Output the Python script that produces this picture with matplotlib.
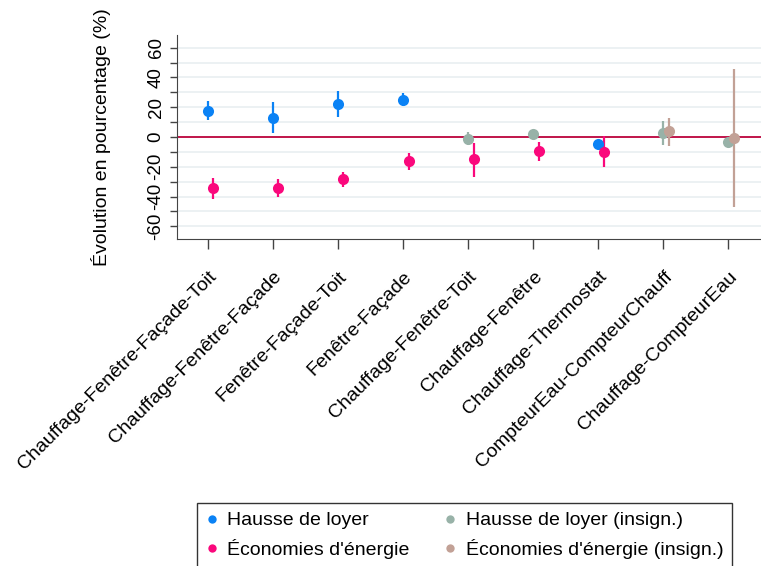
import numpy as np
import matplotlib.pyplot as plt

plt.rcParams['font.family'] = ['Liberation Sans', 'DejaVu Sans']

combos = ['Chauffage-Fenêtre-Façade-Toit', 'Chauffage-Fenêtre-Façade',
          'Fenêtre-Façade-Toit', 'Fenêtre-Façade', 'Chauffage-Fenêtre-Toit',
          'Chauffage-Fenêtre', 'Chauffage-Thermostat',
          'CompteurEau-CompteurChauff', 'Chauffage-CompteurEau']

# loyer: estimate, ci low, ci high, significatif
loyer = [17.7, 13.0, 22.4, 24.8, -1.1, 1.8, -4.5, 2.9, -3.1]
loyer_lo = [11.4, 2.5, 13.6, 20.6, -5.4, -1.5, -5.5, -5.6, -4.8]
loyer_hi = [24.2, 23.5, 31.0, 29.3, 3.1, 4.7, -3.5, 10.9, -1.4]
loyer_sig = [True, True, True, True, False, False, True, False, False]

# energie
energie = [-34.4, -34.0, -28.4, -16.1, -15.0, -9.6, -9.8, 3.8, -0.5]
energie_lo = [-41.6, -40.0, -33.8, -22.1, -26.6, -15.9, -19.9, -5.8, -47.2]
energie_hi = [-27.3, -28.0, -23.7, -11.0, -4.2, -3.6, 0.7, 13.0, 46.0]
energie_sig = [True, True, True, True, True, True, True, False, False]

c_loyer = '#0a82f5'
c_energie = '#fa087c'
c_loyer_ns = '#98b2a8'
c_energie_ns = '#c2a196'

fig = plt.figure(figsize=(7.61, 5.66), dpi=100)
ax = fig.add_axes([177/761, 1 - 239/566, 1 - 177/761, 204/566])

x = np.arange(1, len(combos) + 1)
dx = 0.08

def draw(xs, est, lo, hi, sig, col, col_ns):
    for xi, e, l, h, s in zip(xs, est, lo, hi, sig):
        c = col if s else col_ns
        ax.plot([xi, xi], [l, h], color=c, lw=1.6, zorder=3, solid_capstyle='butt')
        ax.plot(xi, e, 'o', color=c, ms=8, mec='none', zorder=4)

draw(x, loyer, loyer_lo, loyer_hi, loyer_sig, c_loyer, c_loyer_ns)
draw(x + dx, energie, energie_lo, energie_hi, energie_sig, c_energie, c_energie_ns)

ax.axhline(0, color='#c0144a', lw=1.4, zorder=2)

ax.set_xlim(0.52, 9.5)
ax.set_ylim(-68.5, 68.5)
yt = np.arange(-60, 70, 10)
ax.set_yticks(yt)
ax.set_yticklabels([str(v) if v % 20 == 0 else '' for v in yt],
                   rotation=90, va='center', fontsize=13.5)
for v in yt:
    ax.axhline(v, color='#eaf0f2', lw=1.3, zorder=1)
ax.set_xticks(x)
ax.set_xticklabels(combos, rotation=45, ha='right', rotation_mode='anchor', fontsize=14)
ax.tick_params(axis='x', length=7, width=1, color='#444444', pad=14)
ax.tick_params(axis='y', length=5, width=1, color='#444444', pad=4)
for s in ['top', 'right']:
    ax.spines[s].set_visible(False)
for s in ['left', 'bottom']:
    ax.spines[s].set_color('#444444')
ax.set_ylabel('Évolution en pourcentage (%)', fontsize=14, labelpad=26)

handles = [
    plt.Line2D([], [], marker='o', ls='none', color=c_loyer, mec='none', ms=6, label='Hausse de loyer'),
    plt.Line2D([], [], marker='o', ls='none', color=c_energie, mec='none', ms=6, label="Économies d'énergie"),
    plt.Line2D([], [], marker='o', ls='none', color=c_loyer_ns, mec='none', ms=6, label='Hausse de loyer (insign.)'),
    plt.Line2D([], [], marker='o', ls='none', color=c_energie_ns, mec='none', ms=6, label="Économies d'énergie (insign.)"),
]
leg = fig.legend(handles=handles, ncol=2, loc='upper left',
                 bbox_to_anchor=(197/761, 1 - 503/566), borderaxespad=0, fontsize=14,
                 frameon=True, fancybox=False, edgecolor='black',
                 handletextpad=0.5, columnspacing=1.8, labelspacing=0.5,
                 borderpad=0.45, handlelength=0.6)
leg.get_frame().set_linewidth(1.0)

fig.savefig('out.png', dpi=100)
plt.close(fig)
